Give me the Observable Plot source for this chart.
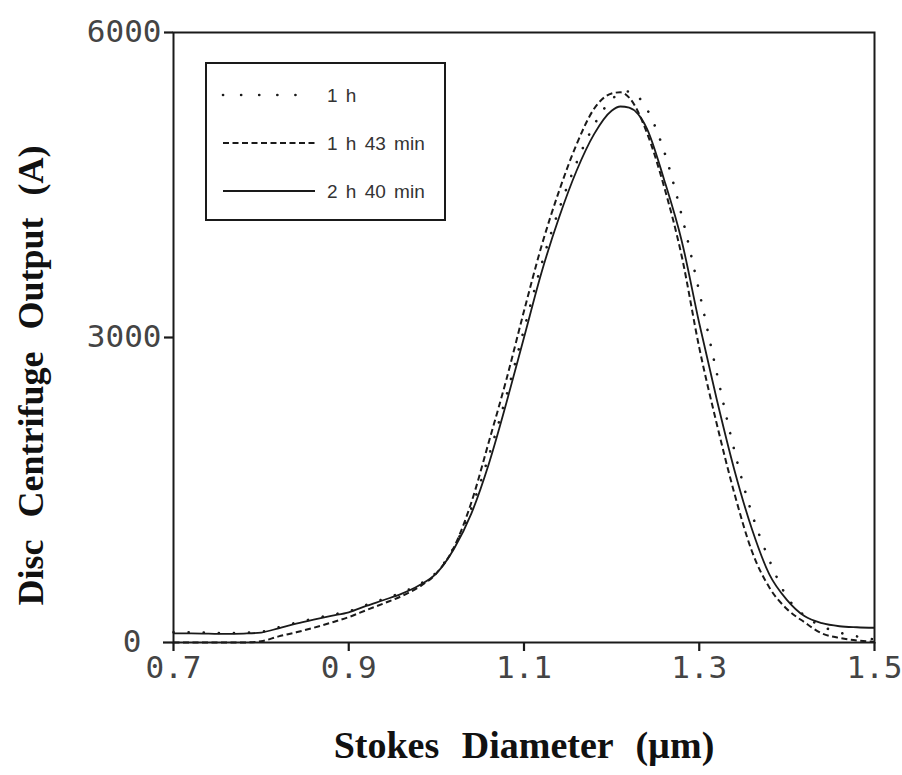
<!DOCTYPE html>
<html>
<head>
<meta charset="utf-8">
<script src="https://cdn.jsdelivr.net/npm/d3@7"></script>
<script src="https://cdn.jsdelivr.net/npm/@observablehq/plot@0.6"></script>
<style>
  html, body { margin: 0; padding: 0; background: #fff; }
  #wrap { position: relative; width: 902px; height: 775px; }
  #legend { position: absolute; left: 205px; top: 62px; width: 237px; height: 155px;
            border: 2.5px solid #1a1a1a; background: #fff; }
</style>
</head>
<body>
<div id="wrap"></div>
<script>
// ---- data ----
const diameters = [0.70,0.72,0.74,0.76,0.78,0.80,0.82,0.84,0.86,0.88,0.90,0.92,0.94,0.96,0.98,1.00,1.02,1.04,1.06,1.08,1.10,1.12,1.14,1.16,1.18,1.20,1.21,1.22,1.24,1.26,1.28,1.30,1.32,1.34,1.36,1.38,1.40,1.42,1.44,1.46,1.48,1.50];
const output1h   = [100,100,96,93,96,106,150,195,235,272,307,370,428,490,570,690,935,1320,1840,2430,3080,3720,4260,4720,5090,5340,5405,5420,5250,4829,4200,3450,2650,1890,1270,810,450,265,160,98,60,30];
const output1h43 = [0,0,0,0,0,12,60,100,145,195,250,318,385,455,545,680,935,1380,1977,2590,3260,3900,4440,4900,5250,5400,5412,5360,5020,4480,3800,2900,2150,1470,900,541,330,200,90,45,20,8];
const output2h40 = [90,90,87,84,88,98,140,185,225,262,297,360,418,478,560,680,920,1270,1761,2360,3000,3640,4180,4640,5000,5230,5272,5260,5060,4550,3950,3140,2390,1700,1119,670,420,260,190,160,150,145];
const seriesNames = ["1 h", "1 h 43 min", "2 h 40 min"];
const xTicks = [0.7, 0.9, 1.1, 1.3, 1.5];
const yTicks = [0, 3000, 6000];
const xTitle = "Stokes Diameter (\u00b5m)";
const yTitle = "Disc Centrifuge Output (A)";

// ---- styles ----
const styles = [
  {strokeDasharray: "0.1,15", strokeWidth: 2.6, strokeLinecap: "round"},
  {strokeDasharray: "6,3.5", strokeWidth: 2.0, strokeLinecap: "butt"},
  {strokeDasharray: null, strokeWidth: 1.8, strokeLinecap: "butt"}
];
const allOutputs = [output1h, output1h43, output2h40];
const table = [];
seriesNames.forEach((name, i) => {
  diameters.forEach((d, j) => table.push({series: name, d, v: allOutputs[i][j]}));
});

const ink = "#1a1a1a";
const lineMarks = seriesNames.map((name, i) =>
  Plot.line(table.filter(r => r.series === name), {
    x: "d", y: "v", curve: "monotone-x", stroke: ink,
    strokeWidth: styles[i].strokeWidth,
    strokeDasharray: styles[i].strokeDasharray || undefined,
    strokeLinecap: styles[i].strokeLinecap
  })
);

const chart = Plot.plot({
  width: 902, height: 775,
  marginLeft: 173, marginRight: 28, marginTop: 32, marginBottom: 133,
  x: {domain: [0.7, 1.5]},
  y: {domain: [0, 6000]},
  style: {fontFamily: "'DejaVu Sans Mono', monospace", fontSize: "31px", color: "#444", background: "#fff", overflow: "visible"},
  marks: [
    Plot.frame({stroke: ink, strokeWidth: 2}),
    Plot.axisX({ticks: xTicks, tickSize: 9, tickPadding: 4, tickFormat: d => d.toFixed(1), label: null, strokeWidth: 2.2, stroke: ink}),
    Plot.axisY({ticks: yTicks.filter(t => t !== 0), tickSize: 9, tickPadding: 3, tickFormat: d => String(d), label: null, strokeWidth: 2.2, stroke: ink}),
    Plot.axisY({ticks: yTicks.filter(t => t === 0), tickSize: 10, tickPadding: 22, tickFormat: d => String(d), label: null, strokeWidth: 2.2, stroke: ink}),
    ...lineMarks,
    Plot.text([xTitle], {frameAnchor: "bottom", dy: 103, text: d => d, textAnchor: "middle", fontFamily: "'Liberation Serif', serif", fontWeight: "bold", fontSize: 38, fill: "#111", lineAnchor: "middle"}),
    Plot.text([yTitle], {frameAnchor: "left", dx: -142, dy: 38, rotate: -90, text: d => d, textAnchor: "middle", fontFamily: "'Liberation Serif', serif", fontWeight: "bold", fontSize: 36, fill: "#111", lineAnchor: "middle"})
  ]
});
chart.querySelectorAll("text").forEach(t => {
  if (t.textContent === yTitle || t.textContent === xTitle) t.style.wordSpacing = "13px";
});
const wrap = document.getElementById("wrap");
wrap.appendChild(chart);

// ---- legend box (inside the plot area, as in the reference) ----
const legend = document.createElement("div");
legend.id = "legend";
const ns = "http://www.w3.org/2000/svg";
const lsvg = document.createElementNS(ns, "svg");
lsvg.setAttribute("width", 237); lsvg.setAttribute("height", 155);
seriesNames.forEach((name, i) => {
  const cy = 31 + i * 48;
  const ln = document.createElementNS(ns, "line");
  ln.setAttribute("x1", 16); ln.setAttribute("x2", i === 0 ? 100 : 108);
  ln.setAttribute("y1", cy); ln.setAttribute("y2", cy);
  ln.setAttribute("stroke", ink);
  ln.setAttribute("stroke-width", styles[i].strokeWidth);
  if (styles[i].strokeDasharray) ln.setAttribute("stroke-dasharray", i === 0 ? "0.1,18" : styles[i].strokeDasharray);
  ln.setAttribute("stroke-linecap", styles[i].strokeLinecap);
  lsvg.appendChild(ln);
  const tx = document.createElementNS(ns, "text");
  tx.setAttribute("x", 120); tx.setAttribute("y", cy + 7);
  tx.setAttribute("font-family", "'Liberation Sans', Arial, sans-serif");
  tx.setAttribute("font-size", 19);
  tx.setAttribute("fill", "#333");
  tx.setAttribute("word-spacing", "3px");
  tx.textContent = name;
  lsvg.appendChild(tx);
});
legend.appendChild(lsvg);
wrap.appendChild(legend);
</script>
</body>
</html>
